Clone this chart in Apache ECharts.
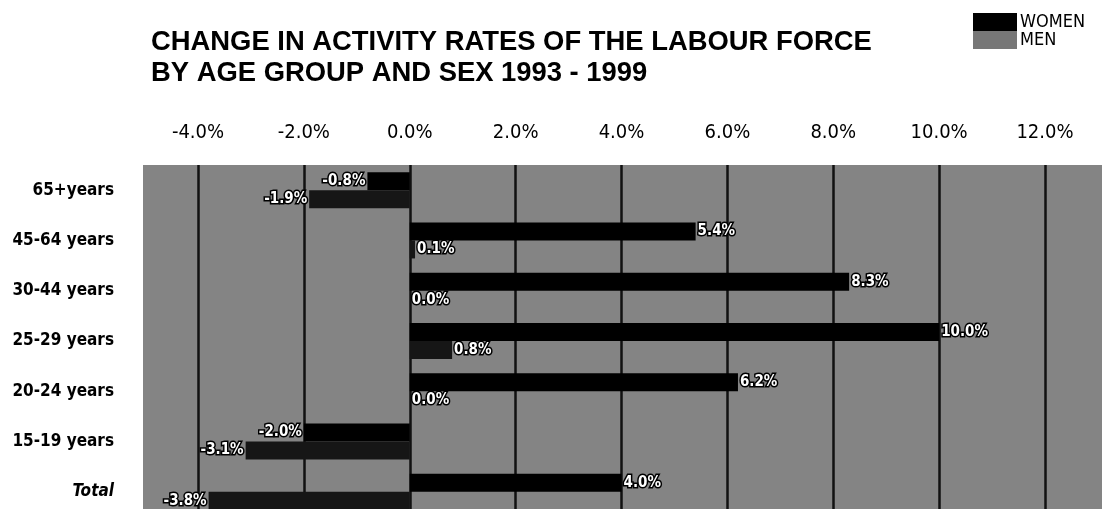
<!DOCTYPE html>
<html><head><meta charset="utf-8">
<script src="https://cdn.jsdelivr.net/npm/echarts@6/dist/echarts.min.js"></script>
<style>html,body{margin:0;padding:0;background:#fff}#c{width:1102px;height:509px}</style>
</head><body><div id="c"></div>
<script>
const categories = ['65+years','45-64 years','30-44 years','25-29 years','20-24 years','15-19 years','Total'];
const women = [-0.8, 5.4, 8.3, 10.0, 6.2, -2.0, 4.0];
const men = [-1.9, 0.1, 0.0, 0.8, 0.0, -3.1, -3.8];
const tickMin = -4, tickMax = 12, tickStep = 2;

const NARROW = '"DejaVu Sans Condensed","Liberation Sans Narrow",sans-serif';
const SANS = '"Liberation Sans",Arial,sans-serif';

function items(arr){
  return arr.map(v => ({value: v, label: {position: v < 0 ? 'left' : 'right'}}));
}
const valLabel = {
  show: true, distance: 2,
  formatter: p => p.value.toFixed(1) + '%',
  color: '#fff', fontFamily: NARROW, fontWeight: 'bold', fontSize: 15,
  textBorderColor: '#000', textBorderWidth: 3
};

const chart = echarts.init(document.getElementById('c'), null, {renderer: 'canvas'});
chart.setOption({
  animation: false,
  backgroundColor: '#fff',
  title: {
    text: 'CHANGE IN ACTIVITY RATES OF THE LABOUR FORCE\nBY AGE GROUP AND SEX 1993 - 1999',
    left: 146, top: 22,
    textStyle: {fontFamily: SANS, fontWeight: 'bold', fontSize: 27.4, lineHeight: 31, color: '#000'}
  },
  legend: {
    orient: 'vertical', left: 968, top: 8, itemGap: 0,
    itemWidth: 44, itemHeight: 18, icon: 'rect',
    textStyle: {fontFamily: NARROW, fontSize: 18, color: '#000', padding: [0,0,0,-2]},
    data: [
      {name: 'WOMEN', itemStyle: {color: '#000'}},
      {name: 'MEN', itemStyle: {color: '#777'}}
    ]
  },
  graphic: [{
    type: 'rect', z: -10, silent: true,
    shape: {x: 143, y: 165, width: 959, height: 344},
    style: {fill: '#848484'}
  }],
  grid: {left: 198, right: 57, top: 165, height: 352, outerBoundsMode: 'none', containLabel: false},
  xAxis: {
    type: 'value', position: 'top', min: tickMin, max: tickMax, interval: tickStep,
    axisLine: {show: false}, axisTick: {show: false},
    axisLabel: {
      margin: 22, formatter: v => v.toFixed(1) + '%',
      fontFamily: NARROW, fontSize: 20, color: '#000'
    },
    splitLine: {show: true, lineStyle: {color: '#111', width: 2.5}}
  },
  yAxis: {
    type: 'category', data: categories, inverse: true,
    axisLine: {show: false}, axisTick: {show: false},
    axisLabel: {
      margin: 84, fontFamily: NARROW, fontWeight: 'bold', fontSize: 17, color: '#000',
      formatter: v => v === 'Total' ? '{i|' + v + '}' : v,
      rich: {i: {fontFamily: NARROW, fontWeight: 'bold', fontSize: 17, fontStyle: 'italic', color: '#000'}}
    }
  },
  series: [
    {name: 'WOMEN', type: 'bar', data: items(women), barWidth: 18, barGap: '0%',
     itemStyle: {color: '#000'}, label: valLabel},
    {name: 'MEN', type: 'bar', data: items(men), barWidth: 18, barGap: '0%',
     itemStyle: {color: '#161616'}, label: valLabel}
  ]
});
</script></body></html>
